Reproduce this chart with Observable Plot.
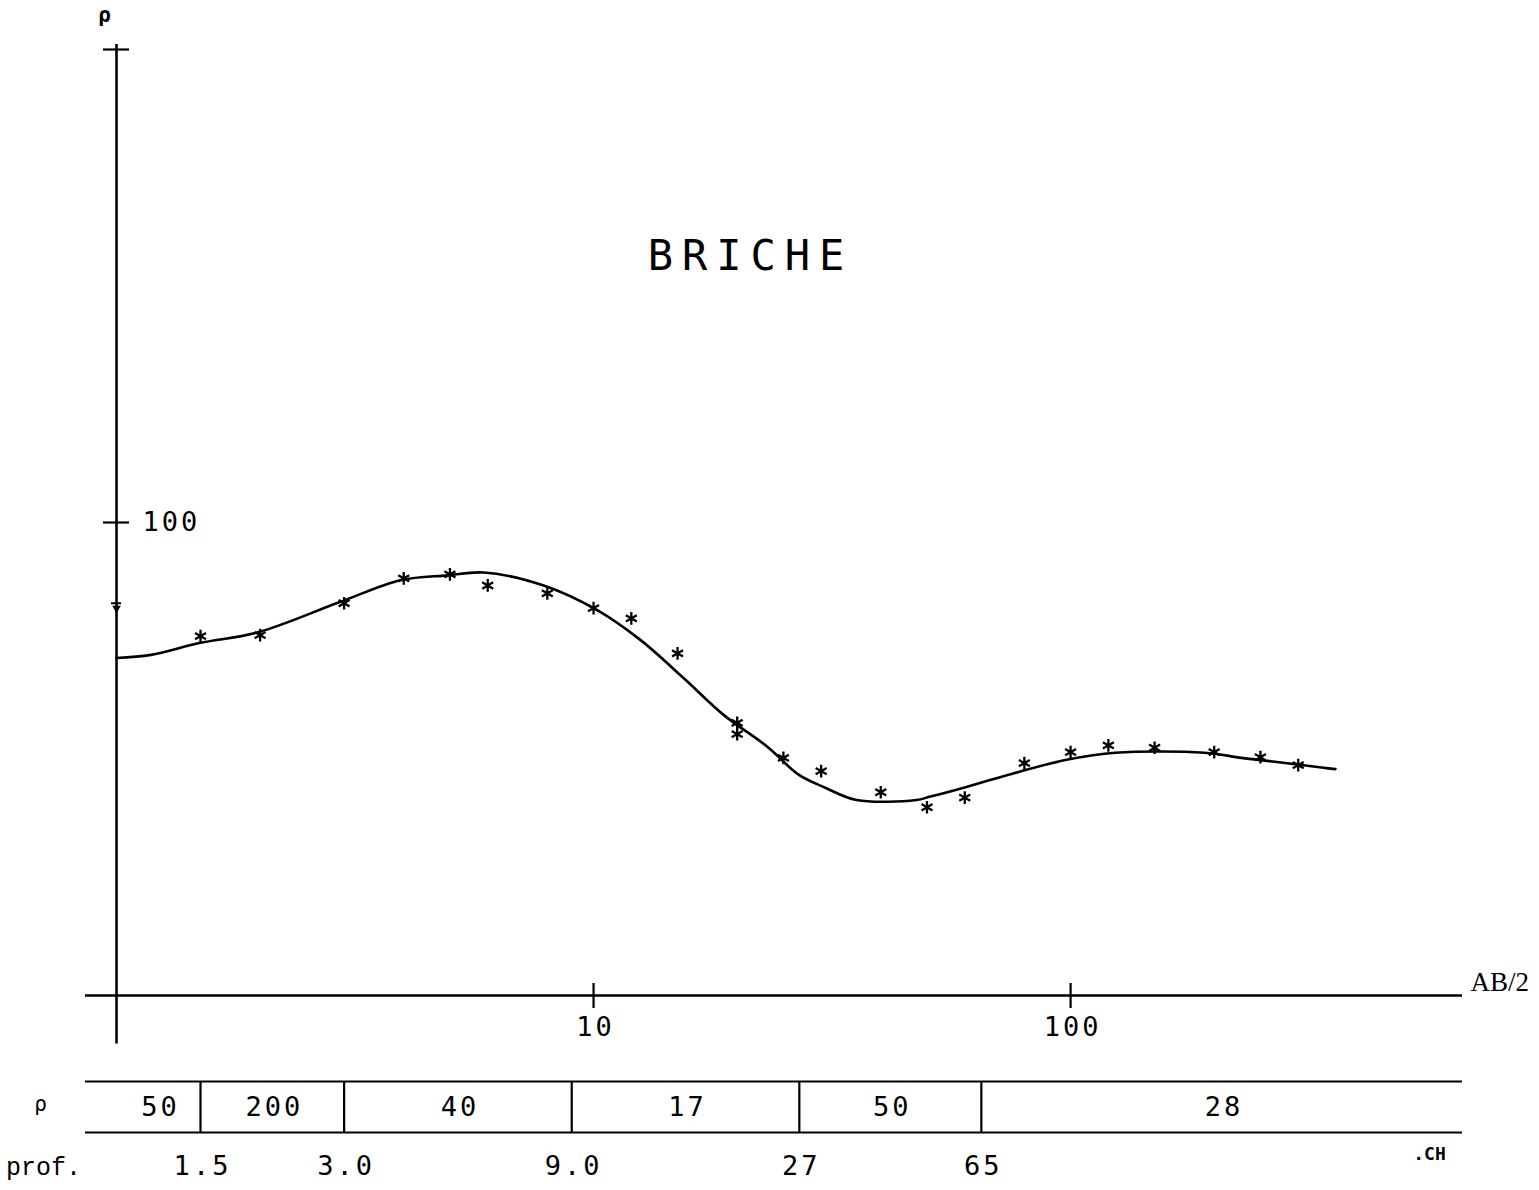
<!DOCTYPE html>
<html>
<head>
<meta charset="utf-8">
<script src="https://cdn.jsdelivr.net/npm/d3@7"></script>
<script src="https://cdn.jsdelivr.net/npm/@observablehq/plot@0.6"></script>
<style>
  html, body { margin: 0; padding: 0; background: #fff; }
  #chart { width: 1539px; height: 1190px; overflow: hidden; }
  #chart svg { display: block; background: #fff; }
</style>
</head>
<body>
<div id="chart"></div>
<script>
// ---- Data -------------------------------------------------------------
// Measured apparent resistivity (asterisks): AB/2 (m) and rho (ohm.m)
const measAB  = [1.5, 2, 3, 4, 5, 6, 8, 10, 12, 15, 20, 20, 25, 30, 40, 50, 60, 80, 100, 120, 150, 200, 250, 300];
const measRho = [57.5, 57.8, 67.5, 76.2, 77.7, 73.6, 70.8, 65.9, 62.7, 52.9, 37.7, 35.7, 31.8, 29.8, 26.9, 25.0, 26.2, 31.0, 32.7, 33.8, 33.4, 32.7, 31.9, 30.7];

// Model (computed) sounding curve
const modelAB  = [1, 1.18, 1.49, 1.98, 2.93, 3.94, 4.94, 5.88, 7.86, 10.2, 12.55, 15.44, 18.73, 23.2, 26.9, 30.6, 35.6, 47.5, 50.6, 60.5, 77.8, 98.1, 124, 191, 228, 268, 339, 359];
const modelRho = [51.7, 52.5, 55.6, 58.6, 67.8, 75.5, 77.3, 78.4, 73.6, 65.2, 56.4, 46.9, 39.2, 33.5, 29.3, 27.5, 25.9, 25.9, 26.3, 27.6, 29.7, 31.5, 32.6, 32.6, 31.8, 31.2, 30.3, 30.1];

// Marker on the rho axis
const axisMarkRho = [67.5];

// Axis ticks
const xTicks = [10, 100];
const yTicks = [100, 1000];
const yTickLabels = [100];

// Layered model table
const layerRho    = ["50", "200", "40", "17", "50", "28"];
const layerDepths = [1.5, 3.0, 9.0, 27, 65];
const depthLabels = ["1.5", "3.0", "9.0", "27", "65"];

// Scale extents (data units)
const xDomain = [0.861, 663];
const yDomain = [10, 1000];
const yAxisExtent = [7.9, 1025];
const xOrigin = 1;

const title = "BRICHE";
const mono = "DejaVu Sans Mono, monospace";

// ---- Build ------------------------------------------------------------
const meas  = measAB.map((d, i) => ({ab: d, rho: measRho[i]}));
const model = modelAB.map((d, i) => ({ab: d, rho: modelRho[i]}));

const xScale = {type: "log", domain: xDomain, range: [85, 1462], axis: null};

const main = Plot.plot({
  width: 1539,
  height: 1060,
  margin: 0,
  style: {background: "#fff", color: "#000", overflow: "visible"},
  x: xScale,
  y: {type: "log", domain: yDomain, range: [995, 49], axis: null},
  marks: [
    // horizontal axis (AB/2)
    Plot.ruleY([yDomain[0]], {x1: xDomain[0], x2: xDomain[1], stroke: "#000", strokeWidth: 2.4}),
    // vertical axis (rho)
    Plot.ruleX([xOrigin], {y1: yAxisExtent[0], y2: yAxisExtent[1], stroke: "#000", strokeWidth: 2.6}),
    // y ticks (crosses)
    Plot.ruleY(yTicks, {x1: xOrigin, x2: xOrigin, insetLeft: -13, insetRight: -13, stroke: "#000", strokeWidth: 2.2}),
    // x ticks
    Plot.ruleX(xTicks, {y1: yDomain[0], y2: yDomain[0], insetTop: -12, insetBottom: -13, stroke: "#000", strokeWidth: 2.2}),
    // tick labels
    Plot.text(yTickLabels, {x: xOrigin, y: d => d, text: d => String(d), dx: 26, textAnchor: "start",
      fontFamily: mono, fontSize: 27, fill: "#000"}),
    Plot.text(xTicks, {x: d => d, y: yDomain[0], text: d => String(d), dy: 32, dx: 2,
      fontFamily: mono, fontSize: 27, fill: "#000"}),
    // marker on rho axis
    Plot.ruleY(axisMarkRho, {x1: xOrigin, x2: xOrigin, insetLeft: -5, insetRight: -5, stroke: "#000", strokeWidth: 2}),
    Plot.dot(axisMarkRho, {x: xOrigin, y: d => d, symbol: "triangle", r: 3.2, rotate: 180, dy: 5, fill: "#000", stroke: "none"}),
    // axis names
    Plot.text(["ρ"], {x: xOrigin, y: yAxisExtent[1], dx: -12, dy: -29, fontFamily: mono, fontSize: 21, fontWeight: "bold", fill: "#000"}),
    Plot.text(["AB/2"], {x: xDomain[1], y: yDomain[0], dx: 8, dy: -13, textAnchor: "start",
      fontFamily: "Liberation Serif, serif", fontSize: 27, fill: "#000"}),
    // title
    Plot.text([title], {frameAnchor: "top-left", dx: 750, dy: 256, textAnchor: "middle", lineAnchor: "middle",
      fontFamily: mono, fontSize: 42, fill: "#000"}),
    // model curve
    Plot.line(model, {x: "ab", y: "rho", curve: "catmull-rom", stroke: "#000", strokeWidth: 2.6}),
    // measurements
    Plot.dot(meas, {x: "ab", y: "rho", symbol: "asterisk", r: 6, stroke: "#000", strokeWidth: 2.3})
  ]
});

// table: layer resistivities and depth boundaries
const bounds = [xOrigin, ...layerDepths, xDomain[1]];
const cells = layerRho.map((r, i) => ({rho: r, mid: Math.sqrt(bounds[i] * bounds[i + 1])}));
const depths = layerDepths.map((d, i) => ({d, label: depthLabels[i]}));

const table = Plot.plot({
  width: 1539,
  height: 130,
  margin: 0,
  style: {background: "#fff", color: "#000", overflow: "visible"},
  x: xScale,
  y: {type: "linear", domain: [0, 2], range: [21, 123], axis: null},
  marks: [
    Plot.ruleY([0, 1], {x1: xDomain[0], x2: xDomain[1], stroke: "#000", strokeWidth: 2.2}),
    Plot.ruleX(depths, {x: "d", y1: 0, y2: 1, stroke: "#000", strokeWidth: 2.2}),
    Plot.text(cells, {x: "mid", y: 0.5, text: "rho", dx: 2, fontFamily: mono, fontSize: 27, fill: "#000"}),
    Plot.text(depths, {x: "d", y: 1.66, text: "label", dx: 2, fontFamily: mono, fontSize: 27, fill: "#000"}),
    Plot.text(["ρ"], {x: xDomain[0], y: 0.45, dx: -45, fontFamily: mono, fontSize: 21, fill: "#000"}),
    Plot.text(["prof."], {x: xDomain[0], y: 1.68, dx: -42, fontFamily: "Liberation Mono, monospace", fontSize: 25, fill: "#000"}),
    Plot.text([".CH"], {x: xDomain[1], y: 1.42, dx: -33, fontFamily: mono, fontWeight: "bold", fontSize: 18, fill: "#000"})
  ]
});

// plotter-style spacing for numeric labels and the title
function spaceText(svg) {
  d3.select(svg).selectAll("text").each(function () {
    const t = this.textContent;
    if (t === title) this.setAttribute("letter-spacing", "9");
    else if (/^[0-9.]+$/.test(t)) this.setAttribute("letter-spacing", "3");
  });
}
spaceText(main);
spaceText(table);

const root = document.getElementById("chart");
root.appendChild(main);
root.appendChild(table);
</script>
</body>
</html>
